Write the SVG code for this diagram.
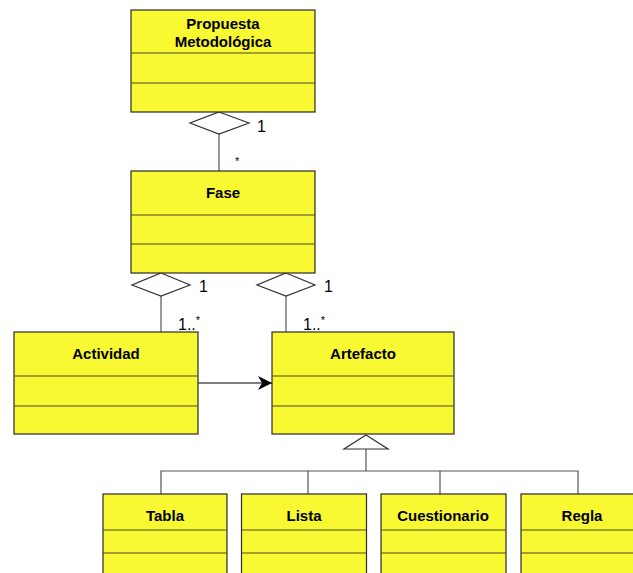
<svg xmlns="http://www.w3.org/2000/svg" width="633" height="573" viewBox="0 0 633 573">
  <style>
    .box { fill: #f8f833; stroke: #2b2b2b; stroke-width: 1.2; }
    .div { stroke: #4a4a2a; stroke-width: 1.2; }
    .name { font-family: "Liberation Sans", Arial, sans-serif; font-size: 15px; font-weight: bold; fill: #000; text-anchor: middle; }
    .mult { font-family: "Liberation Sans", Arial, sans-serif; font-size: 16px; fill: #000; }
    .star { font-family: "Liberation Sans", Arial, sans-serif; font-size: 11px; fill: #000; }
    .link { stroke: #555; stroke-width: 1.2; fill: none; }
    .agg { fill: #fff; stroke: #333; stroke-width: 1.2; }
  </style>
  <defs>
    <marker id="arrow" markerWidth="14" markerHeight="14" refX="14" refY="7" orient="auto" markerUnits="userSpaceOnUse">
      <path d="M0,0 L14,7 L0,14 L4,7 Z" fill="#000"/>
    </marker>
  </defs>
  <rect width="633" height="573" fill="#fff"/>

  <g id="connectors">
    <!-- Propuesta Metodológica aggregates Fase -->
    <line class="link" x1="219" y1="134" x2="219" y2="171"/>
    <polygon class="agg" points="219,112 249,123 219,134 190,123"/>
    <text class="mult" x="257" y="132">1</text>
    <text class="star" x="235" y="165">*</text>

    <!-- Fase aggregates Actividad -->
    <line class="link" x1="161" y1="296" x2="161" y2="332"/>
    <polygon class="agg" points="161,273 190,285 161,296 132,285"/>
    <text class="mult" x="199" y="292">1</text>
    <text class="mult" x="178" y="330">1..<tspan class="star" dy="-6">*</tspan></text>

    <!-- Fase aggregates Artefacto -->
    <line class="link" x1="286" y1="296" x2="286" y2="332"/>
    <polygon class="agg" points="286,273 315,285 286,296 257,285"/>
    <text class="mult" x="324" y="292">1</text>
    <text class="mult" x="303" y="330">1..<tspan class="star" dy="-6">*</tspan></text>

    <!-- Actividad uses Artefacto -->
    <line x1="198" y1="383" x2="272" y2="383" stroke="#000" stroke-width="1.2" marker-end="url(#arrow)"/>

    <!-- Generalization of Artefacto -->
    <polyline class="link" points="161,494 161,471 578,471 578,494"/>
    <line class="link" x1="308" y1="471" x2="308" y2="494"/>
    <line class="link" x1="440" y1="471" x2="440" y2="494"/>
    <line class="link" x1="366" y1="449" x2="366" y2="471" stroke="#333"/>
    <polygon class="agg" points="366,435 388,449 344,449"/>
  </g>

  <g id="propuesta">
    <rect class="box" x="131" y="10" width="184" height="102"/>
    <line class="div" x1="131" y1="53" x2="315" y2="53"/>
    <line class="div" x1="131" y1="83" x2="315" y2="83"/>
    <text class="name" x="223" y="29">Propuesta</text>
    <text class="name" x="223" y="47">Metodológica</text>
  </g>

  <g id="fase">
    <rect class="box" x="131" y="171" width="184" height="102"/>
    <line class="div" x1="131" y1="215" x2="315" y2="215"/>
    <line class="div" x1="131" y1="244" x2="315" y2="244"/>
    <text class="name" x="223" y="198">Fase</text>
  </g>

  <g id="actividad">
    <rect class="box" x="14" y="332" width="184" height="102"/>
    <line class="div" x1="14" y1="376" x2="198" y2="376"/>
    <line class="div" x1="14" y1="406" x2="198" y2="406"/>
    <text class="name" x="106" y="359">Actividad</text>
  </g>

  <g id="artefacto">
    <rect class="box" x="272" y="332" width="182" height="102"/>
    <line class="div" x1="272" y1="376" x2="454" y2="376"/>
    <line class="div" x1="272" y1="406" x2="454" y2="406"/>
    <text class="name" x="363" y="359">Artefacto</text>
  </g>

  <g id="tabla">
    <rect class="box" x="103" y="494" width="124" height="100"/>
    <line class="div" x1="103" y1="530" x2="227" y2="530"/>
    <line class="div" x1="103" y1="553" x2="227" y2="553"/>
    <text class="name" x="165" y="521">Tabla</text>
  </g>

  <g id="lista">
    <rect class="box" x="241.5" y="494" width="125" height="100"/>
    <line class="div" x1="241.5" y1="530" x2="366.5" y2="530"/>
    <line class="div" x1="241.5" y1="553" x2="366.5" y2="553"/>
    <text class="name" x="304" y="521">Lista</text>
  </g>

  <g id="cuestionario">
    <rect class="box" x="381" y="494" width="125" height="100"/>
    <line class="div" x1="381" y1="530" x2="506" y2="530"/>
    <line class="div" x1="381" y1="553" x2="506" y2="553"/>
    <text class="name" x="443" y="521">Cuestionario</text>
  </g>

  <g id="regla">
    <rect class="box" x="521" y="494" width="125" height="100"/>
    <line class="div" x1="521" y1="530" x2="646" y2="530"/>
    <line class="div" x1="521" y1="553" x2="646" y2="553"/>
    <text class="name" x="582" y="521">Regla</text>
  </g>
</svg>
